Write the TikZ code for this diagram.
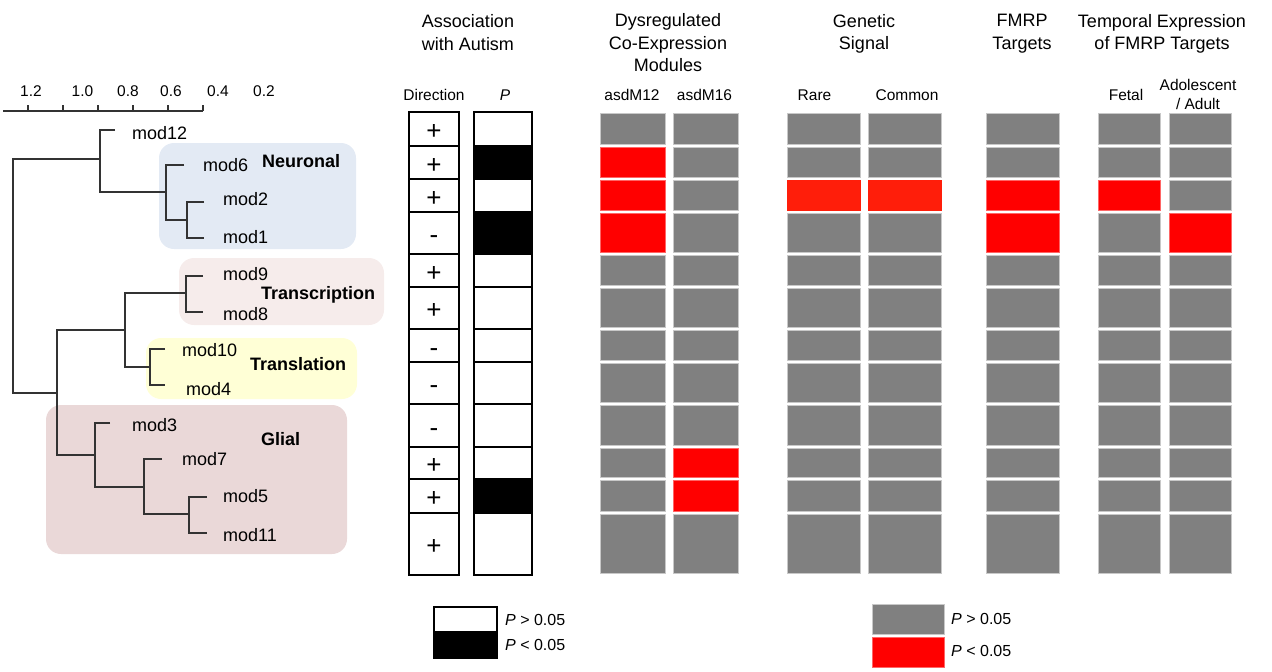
\documentclass[tikz,border=0pt]{standalone}
\usepackage{fontspec}
\setmainfont{Liberation Sans}
\usetikzlibrary{positioning}
\definecolor{cellgrey}{HTML}{808080}
\definecolor{cellrule}{HTML}{C8C8C8}
\definecolor{hit}{HTML}{FF0000}
\definecolor{hitgen}{HTML}{FF1E0A}
\definecolor{neuro}{HTML}{E3EAF4}
\definecolor{transc}{HTML}{F6ECEB}
\definecolor{transl}{HTML}{FFFFD6}
\definecolor{glia}{HTML}{EAD8D8}
\definecolor{branch}{HTML}{333333}

\begin{document}
\begin{tikzpicture}[x=1pt, y=-1pt,
  every node/.style={inner sep=0pt},
  hdr/.style={font=\fontsize{18}{22.5}\selectfont, align=center, anchor=north},
  sub/.style={font=\fontsize{15.5}{18.5}\selectfont, anchor=base},
  leaf/.style={font=\fontsize{18}{21}\selectfont, anchor=base west},
  grp/.style={font=\fontsize{18}{21}\selectfont\bfseries, anchor=base west},
  tick/.style={font=\fontsize{15.5}{18}\selectfont, anchor=base},
  tree/.style={draw=branch, line width=1.1pt},
  module/.style={rounded corners=15pt},
  sign/.style={font=\fontsize{26}{28}\selectfont, anchor=base},
  assoc/.style={draw=black, line width=1.6pt},
  cell/.style={fill=cellgrey, draw=cellrule, line width=0.8pt},
  hitcell/.style={fill=hit, draw=hit!60, line width=0.8pt},
  leg/.style={font=\fontsize{16}{19}\selectfont, anchor=base west}
]
  \useasboundingbox (0,0) rectangle (1272,672);

  % module groups behind the tree
  \fill[neuro, module] (159,143) rectangle (356,249);
  \fill[transc, module] (179,258) rectangle (384,325);
  \fill[transl, module] (146,338) rectangle (357,399);
  \fill[glia, module] (46,405) rectangle (347,554);

  % height axis
  \draw[tree] (3,111) -- (203,111);
  \foreach \t in {28,63,98,133,168,203} \draw[tree] (\t,111) -- (\t,105);
  \node[tick] (h12) at (31,96.5) {1.2};
  \node[tick] (h10) at (82.5,96.5) {1.0};
  \node[tick] (h08) at (128,96.5) {0.8};
  \node[tick] (h06) at (171,96.5) {0.6};
  \node[tick] (h04) at (218,96.5) {0.4};
  \node[tick] (h02) at (264,96.5) {0.2};

  % leaf tips
  \coordinate (l12) at (115,130);
  \coordinate (l6) at (184,165);
  \coordinate (l2) at (204,202);
  \coordinate (l1) at (204,238);
  \coordinate (l9) at (203,276);
  \coordinate (l8) at (203,312);
  \coordinate (l10) at (165,349);
  \coordinate (l4) at (165,385);
  \coordinate (l3) at (110,423);
  \coordinate (l7) at (162,459);
  \coordinate (l5) at (207,497);
  \coordinate (l11) at (207,533);

  % dendrogram
  \draw[tree] (l2) -| (187,220) |- (l1);
  \draw[tree] (l6) -| (166,192) |- (187,220);
  \draw[tree] (l12) -| (100,159) |- (166,192);
  \draw[tree] (l9) -| (186,293) |- (l8);
  \draw[tree] (l10) -| (150,367) |- (l4);
  \draw[tree] (186,293) -| (125,330) |- (150,367);
  \draw[tree] (l5) -| (189,514) |- (l11);
  \draw[tree] (l7) -| (144,487) |- (189,514);
  \draw[tree] (l3) -| (95,455) |- (144,487);
  \draw[tree] (125,330) -| (57,393) |- (95,455);
  \draw[tree] (100,159) -| (13,276) |- (57,393);

  % leaf labels
  \node[leaf] (m12) at (132,139) {mod12};
  \node[leaf] (m6) at (203,171.5) {mod6};
  \node[leaf] (m2) at (223,205) {mod2};
  \node[leaf] (m1) at (223,243) {mod1};
  \node[leaf] (m9) at (223,280) {mod9};
  \node[leaf] (m8) at (223,320) {mod8};
  \node[leaf] (m10) at (182,356.5) {mod10};
  \node[leaf] (m4) at (186,395) {mod4};
  \node[leaf] (m3) at (132,431.5) {mod3};
  \node[leaf] (m7) at (182,465.5) {mod7};
  \node[leaf] (m5) at (223,502) {mod5};
  \node[leaf] (m11) at (223,541.5) {mod11};

  \node[grp] (neuronal) at (262,167) {Neuronal};
  \node[grp] (transcription) at (261,299) {Transcription};
  \node[grp] (translation) at (250,370) {Translation};
  \node[grp] (glial) at (261,445) {Glial};

  % column headers
  \node[hdr] (hassoc) at (468,14.5) {Association\\with Autism};
  \node[hdr] (hdys) at (668,13.5) {Dysregulated\\Co-Expression\\Modules};
  \node[hdr] (hgen) at (864,14) {Genetic\\Signal};
  \node[hdr] (hfmrp) at (1022,14) {FMRP\\Targets};
  \node[hdr] (htemp) at (1162,14) {Temporal Expression\\of FMRP Targets};

  \node[sub] (sdir) at (434,100) {Direction};
  \node[sub] (sp) at (505,100) {\itshape P};
  \node[sub] (s12) at (632,100) {asdM12};
  \node[sub] (s16) at (704.5,100) {asdM16};
  \node[sub] (srare) at (814.5,100) {Rare};
  \node[sub] (scommon) at (907,100) {Common};
  \node[sub] (sfetal) at (1126,100) {Fetal};
  \node[sub, anchor=north, align=center] (sadult) at (1198,79.5) {Adolescent\\/ Adult};

  % association with autism
  \foreach \ya/\yb/\sg [count=\i] in {112/146/+, 146/179/+, 179/212/+, 212/254/-,
      254/287/+, 287/329/+, 329/362/-, 362/404/-, 404/447/-, 447/479/+,
      479/513/+, 513/575/+} {
    \draw[assoc] (409,\ya) rectangle (459,\yb);
    \draw[assoc] (474,\ya) rectangle (532,\yb);
    \node[sign] (dir\i) at (434,{(\ya+\yb)/2+10.5}) {\sg};
  }
  \foreach \ya/\yb in {146/179, 212/254, 479/513}
    \draw[assoc, fill=black] (474,\ya) rectangle (532,\yb);

  % grey enrichment cells
  \foreach \ya/\yb in {112/146, 146/179, 179/212, 212/254, 254/287, 287/329,
      329/362, 362/404, 404/447, 447/479, 479/513, 513/575}
    \foreach \xa/\xb in {600/665, 673/738, 787/860, 868/941, 986/1059, 1098/1160, 1169/1231}
      \draw[cell] (\xa,\ya+1.5) rectangle (\xb,\yb-1.5);

  % significant cells
  \foreach \xa/\xb/\ya/\yb in {600/665/146/179, 600/665/179/212, 600/665/212/254,
      673/738/447/479, 673/738/479/513, 986/1059/179/212, 986/1059/212/254,
      1098/1160/179/212, 1169/1231/212/254}
    \draw[hitcell] (\xa,\ya+1.5) rectangle (\xb,\yb-1.5);
  \foreach \xa/\xb in {787/860, 868/941}
    \draw[hitcell, fill=hitgen, draw=hitgen] (\xa,180.5) rectangle (\xb,210.5);

  % legends
  \draw[assoc, line width=1.4pt] (434,607) rectangle (497,632);
  \draw[assoc, line width=1.4pt, fill=black] (434,632) rectangle (497,658);
  \node[leg] (lp1) at (505,625) {\textit{P} > 0.05};
  \node[leg] (lp2) at (505,650.5) {\textit{P} < 0.05};

  \draw[cell] (872,604) rectangle (944,634);
  \draw[hitcell] (872,637) rectangle (944,667);
  \node[leg] (lg1) at (951,624) {\textit{P} > 0.05};
  \node[leg] (lg2) at (951,656.5) {\textit{P} < 0.05};
\end{tikzpicture}
\end{document}
